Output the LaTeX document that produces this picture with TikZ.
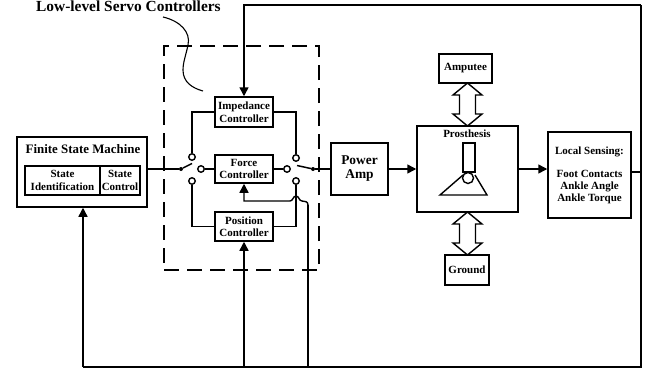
\documentclass[tikz,border=0pt]{standalone}
\usepackage{fontspec}
\setmainfont{Liberation Serif}
\usetikzlibrary{arrows.meta}
\tikzset{
  blk/.style={draw,line width=1.5pt,inner sep=0pt,align=center,font=\bfseries\fontsize{11}{12.5}\selectfont,fill=white},
  wire/.style={line width=1.5pt},
  thinwire/.style={line width=1.4pt},
  arr/.style={wire,-{Triangle[length=9pt,width=9pt]}},
  thinarr/.style={thinwire,-{Triangle[length=9pt,width=9pt]}},
  contact/.style={circle,draw,line width=1.4pt,fill=white,minimum size=6.5pt,inner sep=0pt},
  pole/.style={circle,fill=black,minimum size=4pt,inner sep=0pt},
  lbl/.style={inner sep=0pt,align=center,font=\bfseries\fontsize{11}{12.5}\selectfont},
  dbl/.style={draw,line width=1.4pt,fill=white,line join=miter}
}
\newcommand{\dblarrow}[3]{% x, ytop, ybot
  \draw[dbl] (#1,#2) -- (#1+14.5,#2+12) -- (#1+8,#2+12) -- (#1+8,#3-12) -- (#1+14.5,#3-12) -- (#1,#3) -- (#1-14.5,#3-12) -- (#1-8,#3-12) -- (#1-8,#2+12) -- (#1-14.5,#2+12) -- cycle;}
\begin{document}
\begin{tikzpicture}[x=1pt,y=-1pt]
\useasboundingbox (0,0) rectangle (652,375);
% coordinates of the wire bends
\coordinate (topL) at (244,5);
\coordinate (topR) at (641,5);
\coordinate (botR) at (641,367);
\coordinate (botL) at (83,367);
\coordinate (posB) at (244,367);
\coordinate (humpB) at (308,367);
\coordinate (humpT) at (308,205);
% dashed group
\node[draw,dash pattern=on 15pt off 8pt,line width=1.5pt,minimum width=155pt,minimum height=224pt,inner sep=0pt] (group) at (241.5,158) {};
% blocks
\node[blk,minimum width=130pt,minimum height=70pt] (fsm) at (82,172) {};
\node[lbl,font=\bfseries\fontsize{12.9}{14}\selectfont] (fsmt) at (83,149) {Finite State Machine};
\node[blk,minimum width=75pt,minimum height=29pt] (sid) at (62.5,180.5) {State\\Identification};
\node[blk,minimum width=40pt,minimum height=29pt] (sct) at (120,180.5) {State\\Control};
\node[blk,minimum width=58pt,minimum height=30pt] (imp) at (244,112) {Impedance\\Controller};
\node[blk,minimum width=58pt,minimum height=28pt] (frc) at (244,169) {Force\\Controller};
\node[blk,minimum width=58pt,minimum height=29pt] (pos) at (244,226.5) {Position\\Controller};
\node[blk,minimum width=57pt,minimum height=52pt,font=\bfseries\fontsize{13.4}{14}\selectfont] (amp) at (359.5,169) {Power\\Amp};
\node[blk,minimum width=101pt,minimum height=86pt] (pro) at (467.5,169) {};
\node[lbl] (prot) at (467,134) {Prosthesis};
\node[blk,minimum width=53pt,minimum height=29pt] (amt) at (465.5,68.5) {Amputee};
\node[blk,minimum width=44pt,minimum height=30pt] (gnd) at (467,270) {Ground};
\node[blk,minimum width=83pt,minimum height=86pt,font=\bfseries\fontsize{11}{12}\selectfont] (loc) at (589.5,175) {Local Sensing:\\[11pt]Foot Contacts\\Ankle Angle\\Ankle Torque};
\node[lbl,anchor=west,font=\bfseries\fontsize{15.4}{16}\selectfont] (title) at (36,6) {Low-level Servo Controllers};
% double arrows
\dblarrow{467.5}{83}{126}
\dblarrow{467.5}{212}{255}
% switches
\node[pole] (lp) at (181,169) {};
\node[contact] (lt) at (192,157) {};
\node[contact] (lm) at (201,169) {};
\node[contact] (lb) at (192,181) {};
\node[pole] (rp) at (313,169) {};
\node[contact] (rt) at (296,158) {};
\node[contact] (rm) at (287,169) {};
\node[contact] (rb) at (296,181) {};
\coordinate (larm) at (192,163.5);
\coordinate (rarm) at (297,165.5);
\draw[wire] (fsm.east |- lp) -- (lp);
\draw[wire] (lp) -- (larm);
\draw[wire] (lm) -- (frc.west);
\draw[wire] (frc.east) -- (rm);
\draw[wire] (rp) -- (rarm);
\draw[wire] (rp) -- (amp.west);
\draw[wire] (lt) |- (imp.west);
\draw[wire] (rt) |- (imp.east);
\draw[wire] (lb) |- (pos.west);
\draw[wire] (rb) |- (pos.east);
% signal and feedback wires
\draw[arr] (amp.east) -- (pro.west);
\draw[arr] (pro.east) -- (loc.west |- pro.east);
\draw[wire] (loc.east |- 0,172) -- (topR |- 0,172);
\draw[arr] (topR) -- (topL) -- (imp.north);
\draw[wire] (topR) -- (botR) -- (botL);
\draw[thinarr] (botL) -- (fsm.south -| botL);
\draw[thinarr] (posB) -- (pos.south);
\draw[thinwire] (humpB) -- (humpT);
\draw[thinarr] (humpT) .. controls (308,201.5) and (305,201) .. (302,201) .. controls (299,201) and (299,196) .. (296,196) .. controls (293,196) and (293,201) .. (290,201) -- (244,201) -- (frc.south);
% foot drawing
\node[draw,line width=1.4pt,minimum width=12pt,minimum height=29pt,inner sep=0pt] (shank) at (469,157.5) {};
\node[circle,draw,line width=1.4pt,minimum size=11pt,inner sep=0pt] (ankle) at (468,178) {};
\draw[line width=1.4pt] (463,175) -- (440,195) -- (487,195) -- (475,175);
% leader
\draw[line width=1.1pt] (163,17) .. controls (180,21) and (191,32) .. (188,45) .. controls (186,55) and (183,62) .. (183,70) .. controls (183,82) and (192,88) .. (203,91);
\end{tikzpicture}
\end{document}
